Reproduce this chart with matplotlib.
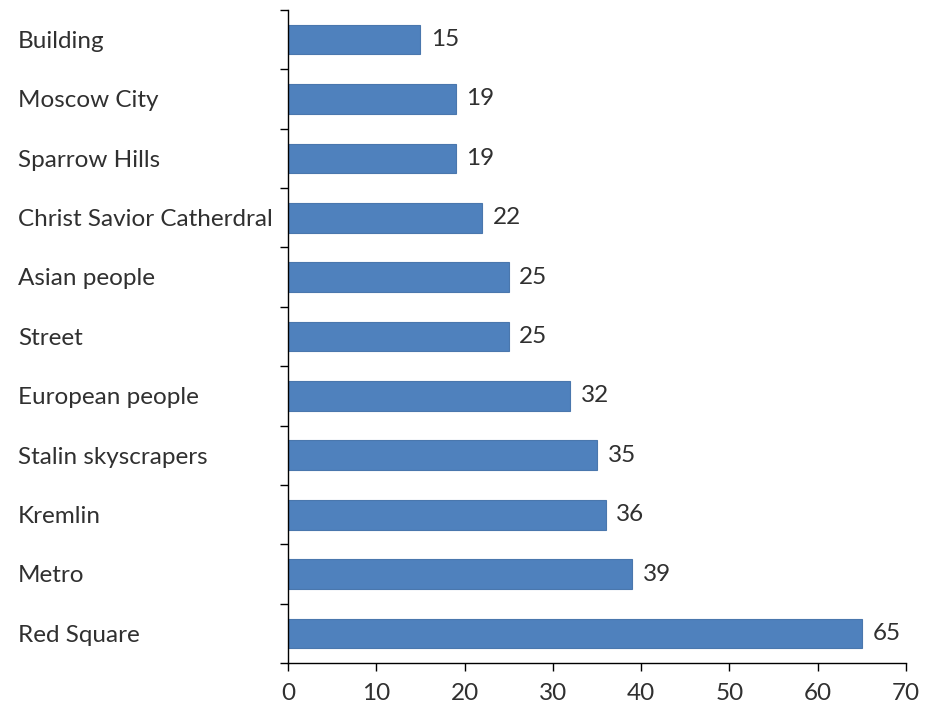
import matplotlib.pyplot as plt
import matplotlib.transforms as mtransforms
import numpy as np

categories = ["Building", "Moscow City", "Sparrow Hills", "Christ Savior Catherdral",
              "Asian people", "Street", "European people", "Stalin skyscrapers",
              "Kremlin", "Metro", "Red Square"]
values = [15, 19, 19, 22, 25, 25, 32, 35, 36, 39, 65]
x_ticks = [0, 10, 20, 30, 40, 50, 60, 70]

plt.rcParams['font.family'] = ['Lato', 'DejaVu Sans']
fs = 17.5
txt_color = "#303030"

fig = plt.figure(figsize=(9.32, 7.07), dpi=100)
ax = fig.add_axes([0.309, 0.062, 0.663, 0.924])

pos = np.arange(len(categories))
ax.barh(pos, values, height=0.5, color="#4F81BD", edgecolor="#4A77AD", linewidth=0.8)

# value labels right of the bars
for p, v in zip(pos, values):
    ax.text(v + 1.2, p, str(v), va="center", ha="left", fontsize=fs, color=txt_color)

ax.set_ylim(len(categories) - 0.5, -0.5)
ax.set_xlim(0, 70)
ax.set_xticks(x_ticks)
ax.set_xticklabels([str(t) for t in x_ticks], fontsize=fs, color=txt_color)

# ticks between categories, like Excel
ax.set_yticks(pos)
ax.set_yticklabels([])
ax.tick_params(axis="y", which="major", length=0)
ax.set_yticks(np.arange(-0.5, len(categories), 1.0), minor=True)
ax.tick_params(axis="y", which="minor", length=6, direction="out", width=1)
ax.tick_params(axis="x", length=6, direction="out", width=1, pad=8)

# category labels, left aligned at the figure edge
lab_trans = mtransforms.blended_transform_factory(fig.transFigure, ax.transData)
for p, c in zip(pos, categories):
    ax.text(18 / 932, p + 0.03, c, transform=lab_trans,
            ha="left", va="center", fontsize=fs, color=txt_color)

for s in ["top", "right"]:
    ax.spines[s].set_visible(False)
ax.spines["left"].set_linewidth(1)
ax.spines["bottom"].set_linewidth(1)

fig.savefig("out.png", dpi=100)
